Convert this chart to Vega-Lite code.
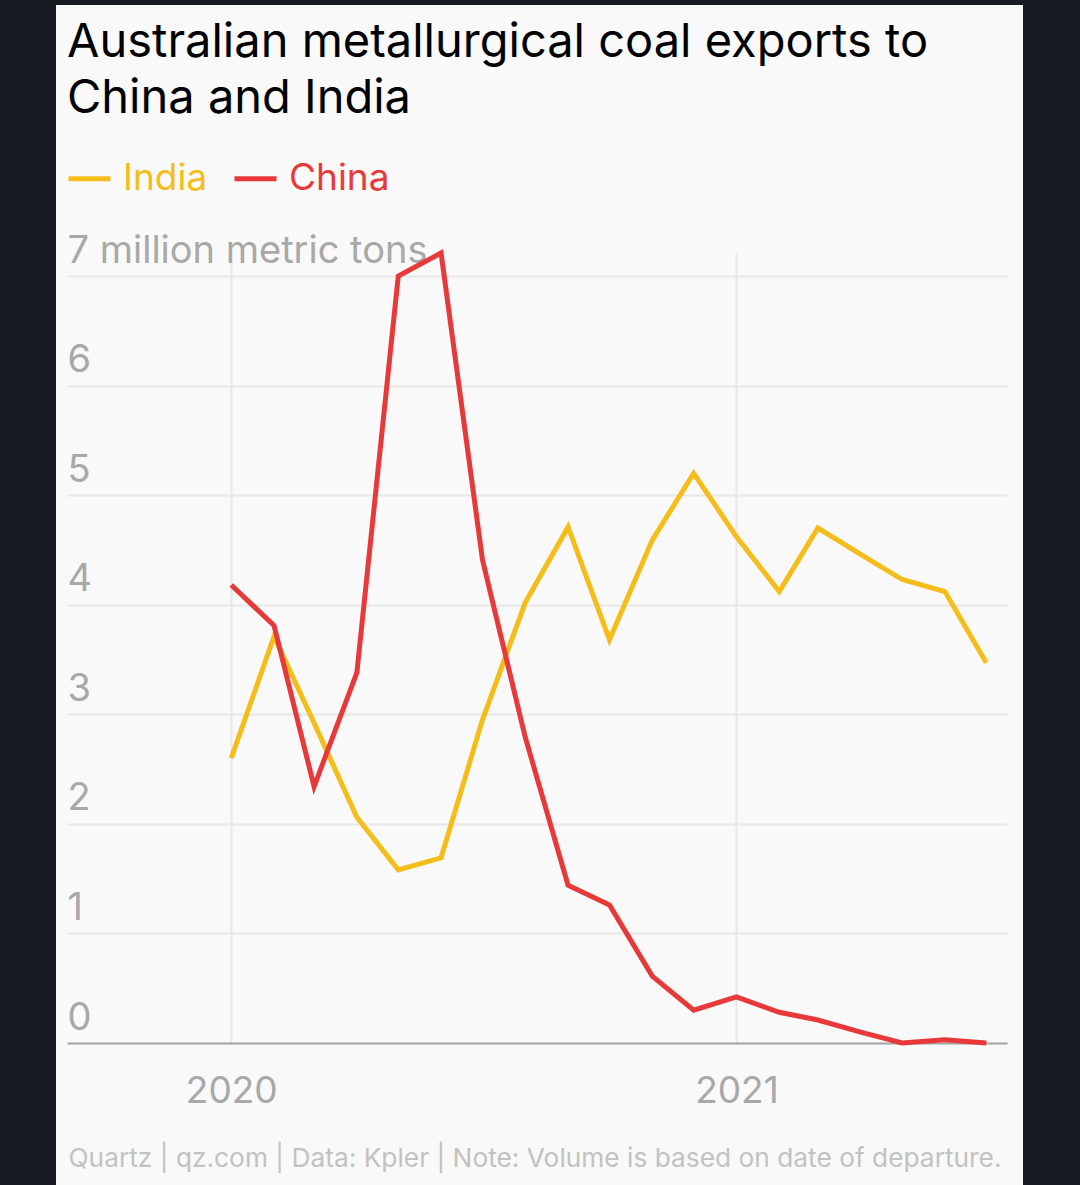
{
  "$schema": "https://vega.github.io/schema/vega-lite/v6.json",
  "width": 940,
  "height": 790,
  "autosize": {"type": "none"},
  "padding": {"left": 67, "right": 73, "top": 253, "bottom": 142},
  "background": "#f9f9f9",
  "title": {
    "text": ["Australian metallurgical coal exports to", "China and India"],
    "anchor": "start",
    "frame": "group",
    "font": "Inter",
    "fontSize": 47,
    "fontWeight": "normal",
    "color": "#000000",
    "lineHeight": 56,
    "baseline": "alphabetic",
    "offset": -160
  },
  "config": {
    "view": {"stroke": null},
    "font": "Inter"
  },
  "data": {
    "values": [
      {"date": "2020-01-01", "country": "India", "value": 2.60},
      {"date": "2020-02-01", "country": "India", "value": 3.71},
      {"date": "2020-03-01", "country": "India", "value": 2.92},
      {"date": "2020-04-01", "country": "India", "value": 2.06},
      {"date": "2020-05-01", "country": "India", "value": 1.58},
      {"date": "2020-06-01", "country": "India", "value": 1.69},
      {"date": "2020-07-01", "country": "India", "value": 2.95},
      {"date": "2020-08-01", "country": "India", "value": 4.02},
      {"date": "2020-09-01", "country": "India", "value": 4.71},
      {"date": "2020-10-01", "country": "India", "value": 3.68},
      {"date": "2020-11-01", "country": "India", "value": 4.59},
      {"date": "2020-12-01", "country": "India", "value": 5.20},
      {"date": "2021-01-01", "country": "India", "value": 4.62},
      {"date": "2021-02-01", "country": "India", "value": 4.12},
      {"date": "2021-03-01", "country": "India", "value": 4.70},
      {"date": "2021-04-01", "country": "India", "value": 4.46},
      {"date": "2021-05-01", "country": "India", "value": 4.23},
      {"date": "2021-06-01", "country": "India", "value": 4.12},
      {"date": "2021-07-01", "country": "India", "value": 3.47},
      {"date": "2020-01-01", "country": "China", "value": 4.18},
      {"date": "2020-02-01", "country": "China", "value": 3.81},
      {"date": "2020-03-01", "country": "China", "value": 2.34},
      {"date": "2020-04-01", "country": "China", "value": 3.38},
      {"date": "2020-05-01", "country": "China", "value": 7.00},
      {"date": "2020-06-01", "country": "China", "value": 7.21},
      {"date": "2020-07-01", "country": "China", "value": 4.41},
      {"date": "2020-08-01", "country": "China", "value": 2.79},
      {"date": "2020-09-01", "country": "China", "value": 1.44},
      {"date": "2020-10-01", "country": "China", "value": 1.26},
      {"date": "2020-11-01", "country": "China", "value": 0.61},
      {"date": "2020-12-01", "country": "China", "value": 0.30},
      {"date": "2021-01-01", "country": "China", "value": 0.42},
      {"date": "2021-02-01", "country": "China", "value": 0.28},
      {"date": "2021-03-01", "country": "China", "value": 0.21},
      {"date": "2021-04-01", "country": "China", "value": 0.10},
      {"date": "2021-05-01", "country": "China", "value": 0.00},
      {"date": "2021-06-01", "country": "China", "value": 0.03},
      {"date": "2021-07-01", "country": "China", "value": 0.00}
    ]
  },
  "layer": [
    {
      "mark": {"type": "rect", "color": "#181b23", "clip": false},
      "encoding": {
        "x": {"datum": {"year": 2019, "month": 7, "date": 17, "utc": true}, "type": "temporal"},
        "x2": {"datum": {"year": 2019, "month": 8, "date": 27, "utc": true}},
        "y": {"datum": -1.3, "type": "quantitative"},
        "y2": {"datum": 9.519}
      }
    },
    {
      "mark": {"type": "rect", "color": "#181b23", "clip": false},
      "encoding": {
        "x": {"datum": {"year": 2021, "month": 7, "date": 28, "utc": true}, "type": "temporal"},
        "x2": {"datum": {"year": 2021, "month": 9, "date": 7, "utc": true}},
        "y": {"datum": -1.3, "type": "quantitative"},
        "y2": {"datum": 9.519}
      }
    },
    {
      "mark": {"type": "rect", "color": "#181b23", "clip": false},
      "encoding": {
        "x": {"datum": {"year": 2019, "month": 7, "date": 17, "utc": true}, "type": "temporal"},
        "x2": {"datum": {"year": 2021, "month": 9, "date": 7, "utc": true}},
        "y": {"datum": 9.473, "type": "quantitative"},
        "y2": {"datum": 9.519}
      }
    },
    {
      "mark": {"type": "line", "strokeWidth": 5, "strokeJoin": "miter"},
      "encoding": {
        "x": {
          "field": "date",
          "type": "temporal",
          "scale": {
            "type": "utc",
            "domain": [
              {"year": 2019, "month": 9, "date": 4, "utc": true},
              {"year": 2021, "month": 7, "date": 16, "utc": true}
            ]
          },
          "axis": {
            "values": [
              {"year": 2020, "month": 1, "date": 1, "utc": true},
              {"year": 2021, "month": 1, "date": 1, "utc": true}
            ],
            "format": "%Y",
            "grid": true,
            "gridColor": "#e8e8e8",
            "gridWidth": 2,
            "ticks": false,
            "tickSize": 0,
            "domain": true,
            "domainColor": "#a6a6a6",
            "domainWidth": 2,
            "labelFont": "Inter",
            "labelFontSize": 37,
            "labelColor": "#a8a8a8",
            "labelPadding": 30,
            "title": "Quartz | qz.com | Data: Kpler | Note: Volume is based on date of departure.",
            "titleFont": "Inter",
            "titleFontSize": 26.3,
            "titleFontWeight": "normal",
            "titleColor": "#c2c2c2",
            "titleAlign": "left",
            "titleBaseline": "alphabetic",
            "titleX": 1,
            "titleY": 123
          }
        },
        "y": {
          "field": "value",
          "type": "quantitative",
          "scale": {"domain": [0, 7.21], "nice": false, "zero": false},
          "axis": {
            "values": [0, 1, 2, 3, 4, 5, 6, 7],
            "format": "d",
            "labelExpr": "datum.value == 7 ? '7 million metric tons' : datum.label",
            "grid": true,
            "gridColor": "#e8e8e8",
            "gridWidth": 2,
            "ticks": false,
            "tickSize": 0,
            "domain": false,
            "labelAlign": "left",
            "labelBaseline": "alphabetic",
            "labelPadding": 0,
            "labelOffset": -14,
            "labelLimit": 600,
            "labelFont": "Inter",
            "labelFontSize": 38,
            "labelColor": "#a8a8a8",
            "title": null
          }
        },
        "color": {
          "field": "country",
          "type": "nominal",
          "scale": {"domain": ["India", "China"], "range": ["#f5bd1a", "#e8393a"]},
          "legend": {
            "orient": "none",
            "legendX": -1,
            "legendY": -98,
            "direction": "horizontal",
            "title": null,
            "symbolType": "stroke",
            "symbolSize": 1764,
            "symbolStrokeWidth": 5,
            "labelFont": "Inter",
            "labelFontSize": 37,
            "labelOffset": 10,
            "columnPadding": 16,
            "labelLimit": 300,
            "encode": {
              "labels": {
                "update": {
                  "fill": {"signal": "datum.label === 'India' ? '#f5bd1a' : '#e8393a'"}
                }
              }
            }
          }
        },
        "order": {"field": "date", "type": "temporal"}
      }
    }
  ]
}
